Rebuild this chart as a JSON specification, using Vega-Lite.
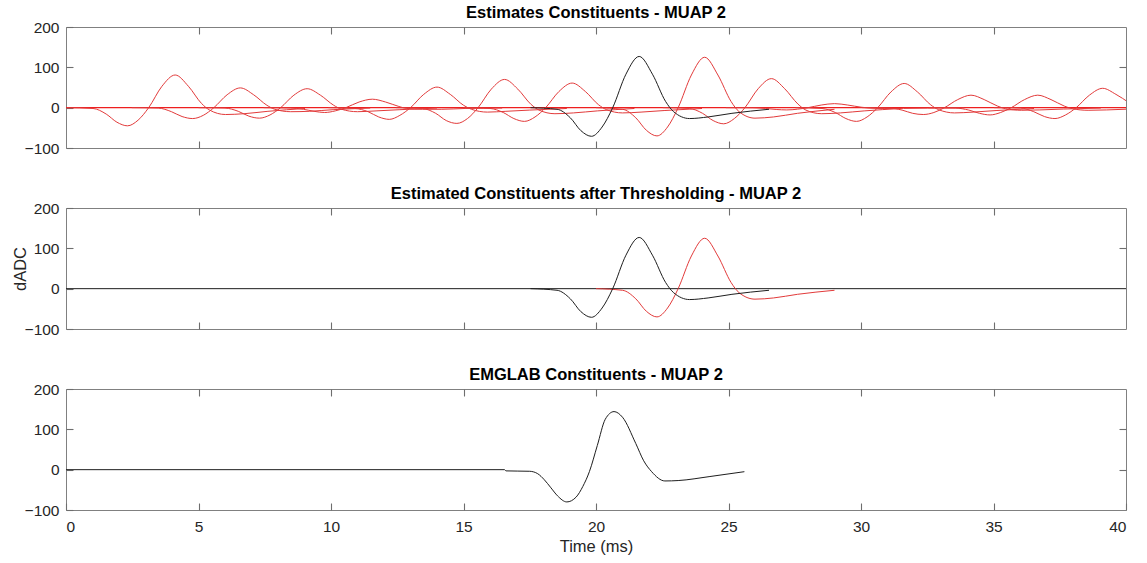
{
  "$schema": "https://vega.github.io/schema/vega-lite/v6.json",
  "background": "white",
  "padding": {"left": 11, "top": 4, "right": 5, "bottom": 5},
  "bounds": "flush",
  "spacing": 60,
  "config": {
    "font": "Liberation Sans",
    "view": {"stroke": "#808080", "strokeWidth": 1},
    "axis": {"grid": false, "domain": false, "ticks": true, "offset": -7, "tickColor": "#6e6e6e", "tickOpacity": 1, "tickWidth": 1.1, "tickSize": 7, "labelFont": "Liberation Sans", "labelFontSize": 15.5, "labelColor": "#262626", "titleFont": "Liberation Sans", "titleFontSize": 16.5, "titleFontWeight": "normal", "titleColor": "#262626"},
    "title": {"font": "Liberation Sans", "fontSize": 16.5, "fontWeight": "bold", "color": "#000000", "offset": -1}
  },
  "datasets": {
    "est": [
      {"id":"C1","g":"estimate","t":0.02,"v":0},{"id":"C1","g":"estimate","t":1.02,"v":-2},{"id":"C1","g":"estimate","t":1.52,"v":-16},{"id":"C1","g":"estimate","t":1.92,"v":-36},{"id":"C1","g":"estimate","t":2.32,"v":-45},{"id":"C1","g":"estimate","t":2.72,"v":-31},{"id":"C1","g":"estimate","t":3.12,"v":0},{"id":"C1","g":"estimate","t":3.62,"v":53},{"id":"C1","g":"estimate","t":4.12,"v":81},{"id":"C1","g":"estimate","t":4.62,"v":53},{"id":"C1","g":"estimate","t":5.12,"v":10},{"id":"C1","g":"estimate","t":5.42,"v":-6},{"id":"C1","g":"estimate","t":6.02,"v":-17},{"id":"C1","g":"estimate","t":6.72,"v":-15},{"id":"C1","g":"estimate","t":7.62,"v":-9},{"id":"C1","g":"estimate","t":9.02,"v":-2},
      {"id":"C2","g":"estimate","t":2.48,"v":0},{"id":"C2","g":"estimate","t":3.48,"v":-1},{"id":"C2","g":"estimate","t":3.98,"v":-10},{"id":"C2","g":"estimate","t":4.38,"v":-22},{"id":"C2","g":"estimate","t":4.78,"v":-27},{"id":"C2","g":"estimate","t":5.18,"v":-19},{"id":"C2","g":"estimate","t":5.58,"v":0},{"id":"C2","g":"estimate","t":6.08,"v":32},{"id":"C2","g":"estimate","t":6.58,"v":49},{"id":"C2","g":"estimate","t":7.08,"v":32},{"id":"C2","g":"estimate","t":7.58,"v":6},{"id":"C2","g":"estimate","t":7.88,"v":-4},{"id":"C2","g":"estimate","t":8.48,"v":-10},{"id":"C2","g":"estimate","t":9.18,"v":-9},{"id":"C2","g":"estimate","t":10.08,"v":-5},{"id":"C2","g":"estimate","t":11.48,"v":-1},
      {"id":"C3","g":"estimate","t":5.0,"v":0},{"id":"C3","g":"estimate","t":6.0,"v":-1},{"id":"C3","g":"estimate","t":6.5,"v":-9},{"id":"C3","g":"estimate","t":6.9,"v":-21},{"id":"C3","g":"estimate","t":7.3,"v":-26},{"id":"C3","g":"estimate","t":7.7,"v":-18},{"id":"C3","g":"estimate","t":8.1,"v":0},{"id":"C3","g":"estimate","t":8.6,"v":31},{"id":"C3","g":"estimate","t":9.1,"v":47},{"id":"C3","g":"estimate","t":9.6,"v":31},{"id":"C3","g":"estimate","t":10.1,"v":6},{"id":"C3","g":"estimate","t":10.4,"v":-4},{"id":"C3","g":"estimate","t":11.0,"v":-10},{"id":"C3","g":"estimate","t":11.7,"v":-8},{"id":"C3","g":"estimate","t":12.6,"v":-5},{"id":"C3","g":"estimate","t":14.0,"v":-1},
      {"id":"C4","g":"estimate","t":7.46,"v":0},{"id":"C4","g":"estimate","t":8.46,"v":-1},{"id":"C4","g":"estimate","t":8.96,"v":-4},{"id":"C4","g":"estimate","t":9.36,"v":-9},{"id":"C4","g":"estimate","t":9.76,"v":-12},{"id":"C4","g":"estimate","t":10.16,"v":-8},{"id":"C4","g":"estimate","t":10.56,"v":0},{"id":"C4","g":"estimate","t":11.06,"v":14},{"id":"C4","g":"estimate","t":11.56,"v":21},{"id":"C4","g":"estimate","t":12.06,"v":14},{"id":"C4","g":"estimate","t":12.56,"v":3},{"id":"C4","g":"estimate","t":12.86,"v":-2},{"id":"C4","g":"estimate","t":13.46,"v":-4},{"id":"C4","g":"estimate","t":14.16,"v":-4},{"id":"C4","g":"estimate","t":15.06,"v":-2},{"id":"C4","g":"estimate","t":16.46,"v":-1},
      {"id":"C5","g":"estimate","t":9.9,"v":0},{"id":"C5","g":"estimate","t":10.9,"v":-2},{"id":"C5","g":"estimate","t":11.4,"v":-10},{"id":"C5","g":"estimate","t":11.8,"v":-23},{"id":"C5","g":"estimate","t":12.2,"v":-29},{"id":"C5","g":"estimate","t":12.6,"v":-19},{"id":"C5","g":"estimate","t":13.0,"v":0},{"id":"C5","g":"estimate","t":13.5,"v":33},{"id":"C5","g":"estimate","t":14.0,"v":51},{"id":"C5","g":"estimate","t":14.5,"v":33},{"id":"C5","g":"estimate","t":15.0,"v":6},{"id":"C5","g":"estimate","t":15.3,"v":-4},{"id":"C5","g":"estimate","t":15.9,"v":-11},{"id":"C5","g":"estimate","t":16.6,"v":-9},{"id":"C5","g":"estimate","t":17.5,"v":-6},{"id":"C5","g":"estimate","t":18.9,"v":-2},
      {"id":"C6","g":"estimate","t":12.45,"v":0},{"id":"C6","g":"estimate","t":13.45,"v":-2},{"id":"C6","g":"estimate","t":13.95,"v":-14},{"id":"C6","g":"estimate","t":14.35,"v":-32},{"id":"C6","g":"estimate","t":14.75,"v":-39},{"id":"C6","g":"estimate","t":15.15,"v":-27},{"id":"C6","g":"estimate","t":15.55,"v":0},{"id":"C6","g":"estimate","t":16.05,"v":46},{"id":"C6","g":"estimate","t":16.55,"v":70},{"id":"C6","g":"estimate","t":17.05,"v":46},{"id":"C6","g":"estimate","t":17.55,"v":8},{"id":"C6","g":"estimate","t":17.85,"v":-6},{"id":"C6","g":"estimate","t":18.45,"v":-15},{"id":"C6","g":"estimate","t":19.15,"v":-13},{"id":"C6","g":"estimate","t":20.05,"v":-8},{"id":"C6","g":"estimate","t":21.45,"v":-2},
      {"id":"C7","g":"estimate","t":15.0,"v":0},{"id":"C7","g":"estimate","t":16.0,"v":-2},{"id":"C7","g":"estimate","t":16.5,"v":-12},{"id":"C7","g":"estimate","t":16.9,"v":-27},{"id":"C7","g":"estimate","t":17.3,"v":-34},{"id":"C7","g":"estimate","t":17.7,"v":-23},{"id":"C7","g":"estimate","t":18.1,"v":0},{"id":"C7","g":"estimate","t":18.6,"v":40},{"id":"C7","g":"estimate","t":19.1,"v":61},{"id":"C7","g":"estimate","t":19.6,"v":40},{"id":"C7","g":"estimate","t":20.1,"v":7},{"id":"C7","g":"estimate","t":20.4,"v":-5},{"id":"C7","g":"estimate","t":21.0,"v":-13},{"id":"C7","g":"estimate","t":21.7,"v":-11},{"id":"C7","g":"estimate","t":22.6,"v":-7},{"id":"C7","g":"estimate","t":24.0,"v":-2},
      {"id":"C8","g":"estimate","t":20.0,"v":0},{"id":"C8","g":"estimate","t":21.0,"v":-4},{"id":"C8","g":"estimate","t":21.5,"v":-25},{"id":"C8","g":"estimate","t":21.9,"v":-56},{"id":"C8","g":"estimate","t":22.3,"v":-70},{"id":"C8","g":"estimate","t":22.7,"v":-48},{"id":"C8","g":"estimate","t":23.1,"v":0},{"id":"C8","g":"estimate","t":23.6,"v":81},{"id":"C8","g":"estimate","t":24.1,"v":125},{"id":"C8","g":"estimate","t":24.6,"v":81},{"id":"C8","g":"estimate","t":25.1,"v":15},{"id":"C8","g":"estimate","t":25.4,"v":-10},{"id":"C8","g":"estimate","t":26.0,"v":-26},{"id":"C8","g":"estimate","t":26.7,"v":-23},{"id":"C8","g":"estimate","t":27.6,"v":-14},{"id":"C8","g":"estimate","t":29.0,"v":-4},
      {"id":"C9","g":"estimate","t":22.52,"v":0},{"id":"C9","g":"estimate","t":23.52,"v":-2},{"id":"C9","g":"estimate","t":24.02,"v":-14},{"id":"C9","g":"estimate","t":24.42,"v":-32},{"id":"C9","g":"estimate","t":24.82,"v":-40},{"id":"C9","g":"estimate","t":25.22,"v":-27},{"id":"C9","g":"estimate","t":25.62,"v":0},{"id":"C9","g":"estimate","t":26.12,"v":47},{"id":"C9","g":"estimate","t":26.62,"v":72},{"id":"C9","g":"estimate","t":27.12,"v":47},{"id":"C9","g":"estimate","t":27.62,"v":9},{"id":"C9","g":"estimate","t":27.92,"v":-6},{"id":"C9","g":"estimate","t":28.52,"v":-15},{"id":"C9","g":"estimate","t":29.22,"v":-13},{"id":"C9","g":"estimate","t":30.12,"v":-8},{"id":"C9","g":"estimate","t":31.52,"v":-2},
      {"id":"C10","g":"estimate","t":24.9,"v":0},{"id":"C10","g":"estimate","t":25.9,"v":-0.3},{"id":"C10","g":"estimate","t":26.4,"v":-2},{"id":"C10","g":"estimate","t":26.8,"v":-4.5},{"id":"C10","g":"estimate","t":27.2,"v":-5.6},{"id":"C10","g":"estimate","t":27.6,"v":-3.8},{"id":"C10","g":"estimate","t":28.0,"v":0},{"id":"C10","g":"estimate","t":28.5,"v":6.5},{"id":"C10","g":"estimate","t":29.0,"v":10},{"id":"C10","g":"estimate","t":29.5,"v":6.5},{"id":"C10","g":"estimate","t":30.0,"v":1.2},{"id":"C10","g":"estimate","t":30.3,"v":-0.8},{"id":"C10","g":"estimate","t":30.9,"v":-2.1},{"id":"C10","g":"estimate","t":31.6,"v":-1.8},{"id":"C10","g":"estimate","t":32.5,"v":-1.1},{"id":"C10","g":"estimate","t":33.9,"v":-0.3},
      {"id":"C11","g":"estimate","t":27.53,"v":0},{"id":"C11","g":"estimate","t":28.53,"v":-2},{"id":"C11","g":"estimate","t":29.03,"v":-12},{"id":"C11","g":"estimate","t":29.43,"v":-27},{"id":"C11","g":"estimate","t":29.83,"v":-34},{"id":"C11","g":"estimate","t":30.23,"v":-23},{"id":"C11","g":"estimate","t":30.63,"v":0},{"id":"C11","g":"estimate","t":31.13,"v":39},{"id":"C11","g":"estimate","t":31.63,"v":60},{"id":"C11","g":"estimate","t":32.13,"v":39},{"id":"C11","g":"estimate","t":32.63,"v":7},{"id":"C11","g":"estimate","t":32.93,"v":-5},{"id":"C11","g":"estimate","t":33.53,"v":-13},{"id":"C11","g":"estimate","t":34.23,"v":-11},{"id":"C11","g":"estimate","t":35.13,"v":-7},{"id":"C11","g":"estimate","t":36.53,"v":-2},
      {"id":"C12","g":"estimate","t":30.05,"v":0},{"id":"C12","g":"estimate","t":31.05,"v":-1},{"id":"C12","g":"estimate","t":31.55,"v":-6},{"id":"C12","g":"estimate","t":31.95,"v":-14},{"id":"C12","g":"estimate","t":32.35,"v":-17},{"id":"C12","g":"estimate","t":32.75,"v":-12},{"id":"C12","g":"estimate","t":33.15,"v":0},{"id":"C12","g":"estimate","t":33.65,"v":20},{"id":"C12","g":"estimate","t":34.15,"v":31},{"id":"C12","g":"estimate","t":34.65,"v":20},{"id":"C12","g":"estimate","t":35.15,"v":4},{"id":"C12","g":"estimate","t":35.45,"v":-2.5},{"id":"C12","g":"estimate","t":36.05,"v":-6.5},{"id":"C12","g":"estimate","t":36.75,"v":-5.6},{"id":"C12","g":"estimate","t":37.65,"v":-3.4},{"id":"C12","g":"estimate","t":39.05,"v":-1},
      {"id":"C13","g":"estimate","t":32.57,"v":0},{"id":"C13","g":"estimate","t":33.57,"v":-1},{"id":"C13","g":"estimate","t":34.07,"v":-6},{"id":"C13","g":"estimate","t":34.47,"v":-14},{"id":"C13","g":"estimate","t":34.87,"v":-18},{"id":"C13","g":"estimate","t":35.27,"v":-12},{"id":"C13","g":"estimate","t":35.67,"v":0},{"id":"C13","g":"estimate","t":36.17,"v":20},{"id":"C13","g":"estimate","t":36.67,"v":31},{"id":"C13","g":"estimate","t":37.17,"v":20},{"id":"C13","g":"estimate","t":37.67,"v":4},{"id":"C13","g":"estimate","t":37.97,"v":-2.5},{"id":"C13","g":"estimate","t":38.57,"v":-6.5},{"id":"C13","g":"estimate","t":39.27,"v":-5.6},{"id":"C13","g":"estimate","t":40.17,"v":-3.4},
      {"id":"C14","g":"estimate","t":35.02,"v":0},{"id":"C14","g":"estimate","t":36.02,"v":-1},{"id":"C14","g":"estimate","t":36.52,"v":-10},{"id":"C14","g":"estimate","t":36.92,"v":-22},{"id":"C14","g":"estimate","t":37.32,"v":-27},{"id":"C14","g":"estimate","t":37.72,"v":-18},{"id":"C14","g":"estimate","t":38.12,"v":0},{"id":"C14","g":"estimate","t":38.62,"v":31},{"id":"C14","g":"estimate","t":39.12,"v":48},{"id":"C14","g":"estimate","t":39.62,"v":33},{"id":"C14","g":"estimate","t":40.12,"v":12},
      {"id":"B","g":"MUAP 2","t":17.53,"v":0},{"id":"B","g":"MUAP 2","t":18.53,"v":-4},{"id":"B","g":"MUAP 2","t":19.03,"v":-25},{"id":"B","g":"MUAP 2","t":19.43,"v":-57},{"id":"B","g":"MUAP 2","t":19.83,"v":-71},{"id":"B","g":"MUAP 2","t":20.23,"v":-48},{"id":"B","g":"MUAP 2","t":20.63,"v":0},{"id":"B","g":"MUAP 2","t":21.13,"v":83},{"id":"B","g":"MUAP 2","t":21.63,"v":127},{"id":"B","g":"MUAP 2","t":22.13,"v":83},{"id":"B","g":"MUAP 2","t":22.63,"v":15},{"id":"B","g":"MUAP 2","t":22.93,"v":-10},{"id":"B","g":"MUAP 2","t":23.53,"v":-27},{"id":"B","g":"MUAP 2","t":24.23,"v":-23},{"id":"B","g":"MUAP 2","t":25.13,"v":-14},{"id":"B","g":"MUAP 2","t":26.53,"v":-4}
    ],
    "emg": [
      {"t":0,"v":0},{"t":16.55,"v":0},{"t":16.6,"v":-3},{"t":17.5,"v":-4},{"t":17.8,"v":-10},{"t":18.05,"v":-25},{"t":18.3,"v":-45},{"t":18.55,"v":-65},{"t":18.9,"v":-80},{"t":19.25,"v":-68},{"t":19.5,"v":-42},{"t":19.75,"v":-5},{"t":20.05,"v":60},{"t":20.35,"v":125},{"t":20.68,"v":144},{"t":21.0,"v":130},{"t":21.5,"v":65},{"t":21.8,"v":22},{"t":22.1,"v":-5},{"t":22.6,"v":-28},{"t":23.1,"v":-27},{"t":24.3,"v":-17},{"t":25.6,"v":-5}
    ],
    "zero": [{"t":0,"v":0},{"t":40,"v":0}]
  },
  "vconcat": [
    {
      "width": 1060, "height": 121,
      "title": {"text": "Estimates Constituents - MUAP 2"},
      "layer": [
        {
          "data": {"name": "zero"},
          "mark": {"type": "line", "color": "#ee1f1f", "strokeWidth": 1.3},
          "encoding": {
            "x": {"field": "t", "type": "quantitative", "scale": {"domain": [0, 40], "nice": false}, "axis": {"orient": "top", "values": [5,10,15,20,25,30,35], "labels": false, "title": null}},
            "y": {"field": "v", "type": "quantitative", "scale": {"domain": [-100, 200], "nice": false}, "axis": {"orient": "right", "values": [100], "labels": false, "title": null}}
          }
        },
        {
          "data": {"name": "est"},
          "mark": {"type": "line", "strokeWidth": 1, "interpolate": "monotone", "clip": true},
          "encoding": {
            "x": {"field": "t", "type": "quantitative", "axis": {"orient": "bottom", "values": [5,10,15,20,25,30,35], "labels": false, "title": null}},
            "y": {"field": "v", "type": "quantitative", "axis": {"orient": "left", "values": [-100,0,100,200], "title": null, "labelPadding": 7}},
            "detail": {"field": "id"},
            "color": {"field": "g", "type": "nominal", "scale": {"domain": ["estimate", "MUAP 2"], "range": ["#e23a3a", "#1e1e1e"]}, "legend": null}
          }
        }
      ],
      "resolve": {"axis": {"x": "independent", "y": "independent"}}
    },
    {
      "width": 1060, "height": 121,
      "title": {"text": "Estimated Constituents after Thresholding - MUAP 2"},
      "layer": [
        {
          "data": {"name": "zero"},
          "mark": {"type": "line", "color": "#1e1e1e", "strokeWidth": 1},
          "encoding": {
            "x": {"field": "t", "type": "quantitative", "scale": {"domain": [0, 40], "nice": false}, "axis": {"orient": "top", "values": [5,10,15,20,25,30,35], "labels": false, "title": null}},
            "y": {"field": "v", "type": "quantitative", "scale": {"domain": [-100, 200], "nice": false}, "axis": {"orient": "right", "values": [100], "labels": false, "title": null}}
          }
        },
        {
          "data": {"name": "est"},
          "transform": [{"filter": {"field": "id", "oneOf": ["B", "C8"]}}],
          "mark": {"type": "line", "strokeWidth": 1, "interpolate": "monotone", "clip": true},
          "encoding": {
            "x": {"field": "t", "type": "quantitative", "axis": {"orient": "bottom", "values": [5,10,15,20,25,30,35], "labels": false, "title": null}},
            "y": {"field": "v", "type": "quantitative", "axis": {"orient": "left", "values": [-100,0,100,200], "title": "dADC", "labelPadding": 7, "titlePadding": -4}},
            "detail": {"field": "id"},
            "color": {"field": "g", "type": "nominal", "scale": {"domain": ["estimate", "MUAP 2"], "range": ["#e23a3a", "#1e1e1e"]}, "legend": null}
          }
        }
      ],
      "resolve": {"axis": {"x": "independent", "y": "independent"}}
    },
    {
      "width": 1060, "height": 121,
      "title": {"text": "EMGLAB Constituents - MUAP 2"},
      "layer": [
        {
          "data": {"name": "zero"},
          "mark": {"type": "line", "opacity": 0},
          "encoding": {
            "x": {"field": "t", "type": "quantitative", "scale": {"domain": [0, 40], "nice": false}, "axis": {"orient": "top", "values": [5,10,15,20,25,30,35], "labels": false, "title": null}},
            "y": {"field": "v", "type": "quantitative", "scale": {"domain": [-100, 200], "nice": false}, "axis": {"orient": "right", "values": [0, 100], "labels": false, "title": null}}
          }
        },
        {
          "data": {"name": "emg"},
          "mark": {"type": "line", "color": "#1e1e1e", "strokeWidth": 1, "interpolate": "monotone", "clip": true},
          "encoding": {
            "x": {"field": "t", "type": "quantitative", "axis": {"orient": "bottom", "values": [0,5,10,15,20,25,30,35,40], "title": "Time (ms)", "labelPadding": 9, "titlePadding": 4}},
            "y": {"field": "v", "type": "quantitative", "axis": {"orient": "left", "values": [-100,0,100,200], "title": null, "labelPadding": 7}}
          }
        }
      ],
      "resolve": {"axis": {"x": "independent", "y": "independent"}}
    }
  ]
}
